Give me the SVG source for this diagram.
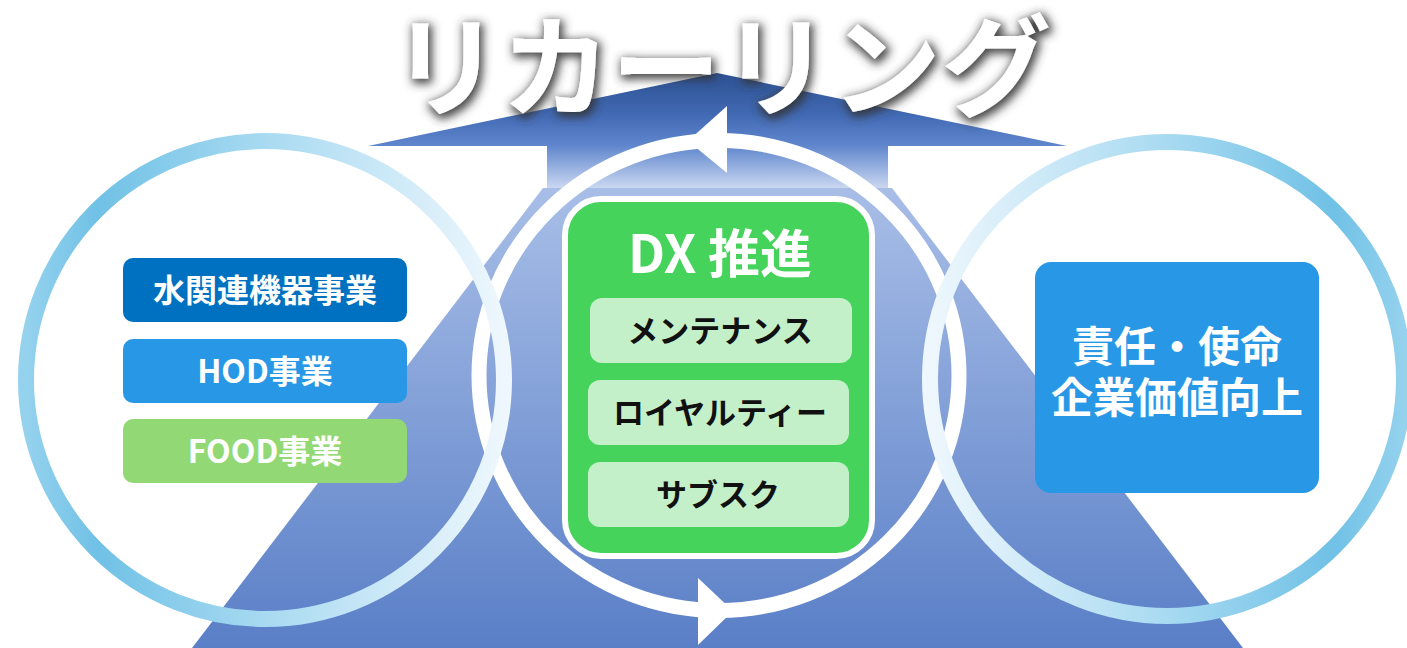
<svg xmlns="http://www.w3.org/2000/svg" width="1407" height="648" viewBox="0 0 1407 648">
  <defs>
    <linearGradient id="gHead" gradientUnits="userSpaceOnUse" x1="0" y1="73" x2="0" y2="190">
      <stop offset="0" stop-color="#2d5191"/>
      <stop offset="0.35" stop-color="#4169b3"/>
      <stop offset="0.62" stop-color="#5f86cd"/>
      <stop offset="1" stop-color="#cfdbf2"/>
    </linearGradient>
    <linearGradient id="gBody" gradientUnits="userSpaceOnUse" x1="0" y1="188" x2="0" y2="648">
      <stop offset="0" stop-color="#a8bee7"/>
      <stop offset="1" stop-color="#5a7fc7"/>
    </linearGradient>
    <linearGradient id="gRingL" x1="0" y1="0" x2="1" y2="0">
      <stop offset="0" stop-color="#95d2ee"/>
      <stop offset="0.15" stop-color="#70c1e6"/>
      <stop offset="0.5" stop-color="#a8daf1"/>
      <stop offset="1" stop-color="#eef7fd"/>
    </linearGradient>
    <linearGradient id="gRingR" x1="0" y1="0" x2="1" y2="0">
      <stop offset="0" stop-color="#eef7fd"/>
      <stop offset="0.5" stop-color="#a8daf1"/>
      <stop offset="0.85" stop-color="#70c1e6"/>
      <stop offset="1" stop-color="#95d2ee"/>
    </linearGradient>
    <filter id="glow" x="-10%" y="-40%" width="120%" height="180%">
      <feMorphology in="SourceAlpha" operator="dilate" radius="2" result="d"/>
      <feGaussianBlur in="d" stdDeviation="5"/>
      <feOffset dx="2" dy="3" result="b"/>
      <feFlood flood-color="#333333" flood-opacity="0.9"/>
      <feComposite in2="b" operator="in"/>
      <feMerge><feMergeNode/><feMergeNode in="SourceGraphic"/></feMerge>
    </filter>
  </defs>
  <style>
    text { font-family: "Noto Sans CJK JP", "Noto Sans", sans-serif; font-weight: bold; text-anchor: middle; }
    .w { fill: #ffffff; }
    .k { fill: #111111; }
    .item { fill: #c3f0c9; }
    .ring { fill: none; stroke-width: 16; }
  </style>

  <rect width="1407" height="648" fill="#ffffff"/>

  <g id="arrow-body">
    <polygon points="543,188 892,188 1243,648 192,648" fill="url(#gBody)"/>
  </g>
  <g id="arrow-head">
    <polygon points="368,146 717,73 1067,146 888,146 888,188 547,188 547,146" fill="url(#gHead)"/>
  </g>

  <g id="connectors">
    <ellipse cx="719" cy="375.5" rx="240" ry="235" fill="none" stroke="#ffffff" stroke-width="15"/>
    <polygon points="727,106 727,173 688,141" fill="#ffffff"/>
    <polygon points="698,578 698,645 733,611" fill="#ffffff"/>
  </g>

  <g id="dx">
    <rect x="565" y="199" width="307" height="357" rx="36" fill="#46d35b" stroke="#ffffff" stroke-width="6"/>
    <text class="w" x="720" y="273" font-size="52">DX 推進</text>
    <rect class="item" x="590" y="298" width="262" height="65" rx="12"/>
    <text class="k" x="720" y="342" font-size="31">メンテナンス</text>
    <rect class="item" x="588" y="380" width="261" height="65" rx="12"/>
    <text class="k" x="720" y="424" font-size="31">ロイヤルティー</text>
    <rect class="item" x="588" y="462" width="261" height="65" rx="12"/>
    <text class="k" x="718" y="506" font-size="31">サブスク</text>
  </g>

  <g id="left-circle">
    <circle class="ring" cx="265" cy="380" r="239" stroke="url(#gRingL)"/>
  </g>
  <g id="right-circle">
    <circle class="ring" cx="1167" cy="379" r="237" stroke="url(#gRingR)"/>
  </g>

  <g id="water">
    <rect x="123" y="258" width="284" height="64" rx="10" fill="#0070c0"/>
    <text class="w" x="265" y="302" font-size="32">水関連機器事業</text>
  </g>
  <g id="hod">
    <rect x="123" y="339" width="284" height="64" rx="10" fill="#2898e6"/>
    <text class="w" x="265" y="383" font-size="32">HOD事業</text>
  </g>
  <g id="food">
    <rect x="123" y="419" width="284" height="64" rx="10" fill="#92d975"/>
    <text class="w" x="265" y="463" font-size="32">FOOD事業</text>
  </g>

  <g id="value">
    <rect x="1035" y="262" width="284" height="231" rx="16" fill="#2898e6"/>
    <text class="w" x="1177" y="362" font-size="42">責任・使命</text>
    <text class="w" x="1177" y="413" font-size="42">企業価値向上</text>
  </g>

  <g id="title">
    <text class="w" x="721" y="108" font-size="110" filter="url(#glow)">リカーリング</text>
  </g>
</svg>
